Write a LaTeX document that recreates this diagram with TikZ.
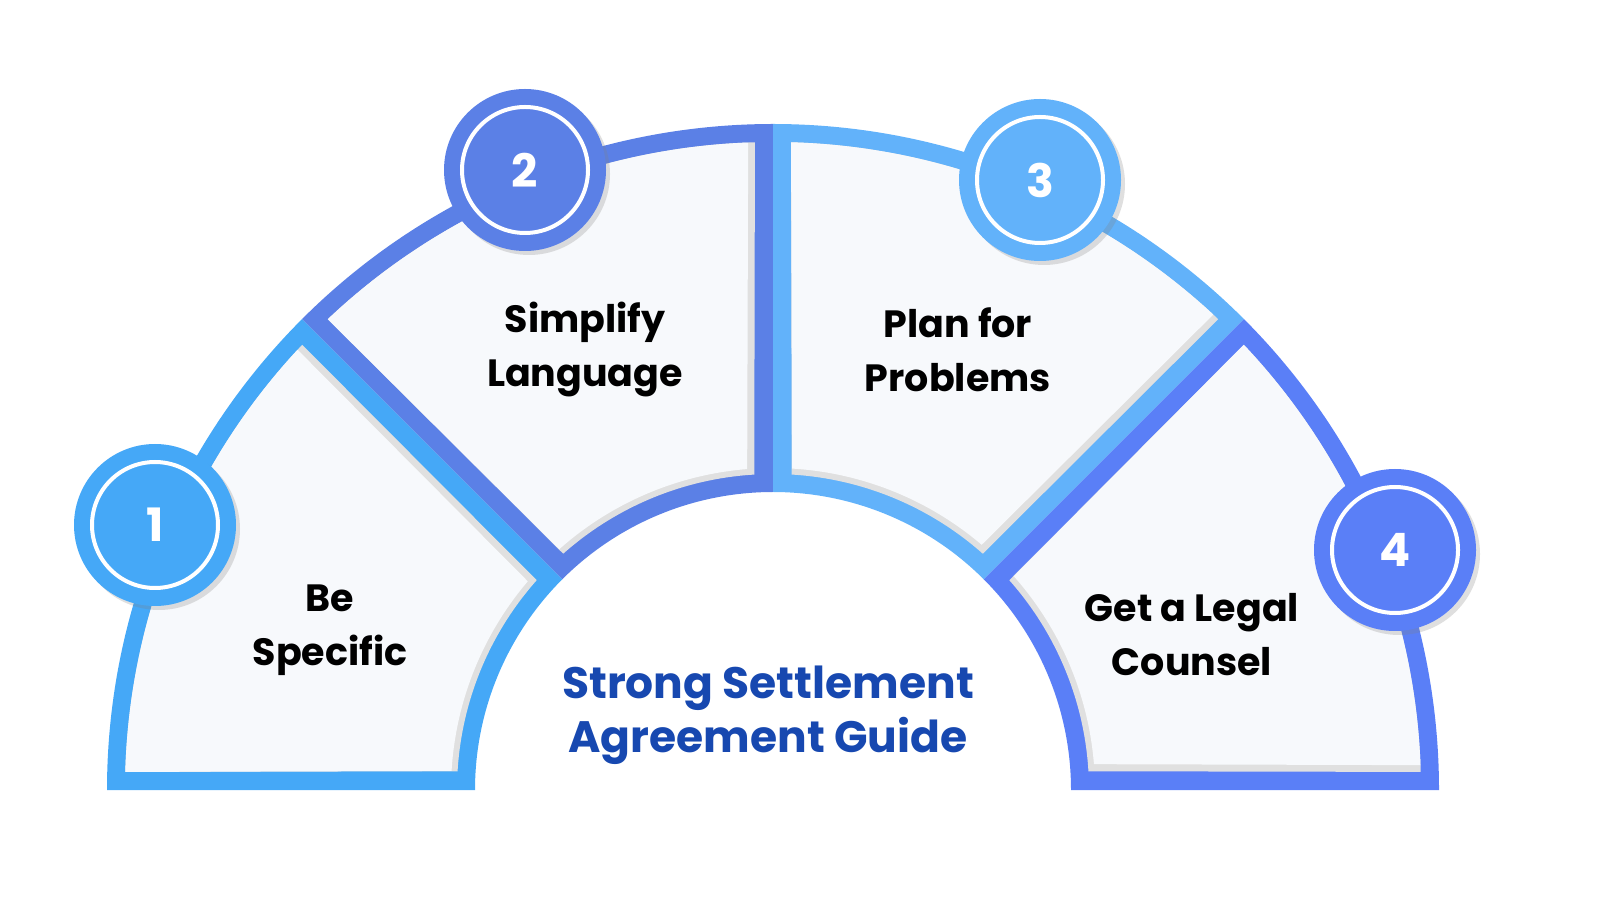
\documentclass[tikz,border=0pt]{standalone}
\usepackage{fontspec}
\setmainfont{Poppins}
\usetikzlibrary{shadows}
\definecolor{cA}{HTML}{45A8F7}
\definecolor{cB}{HTML}{5B80E6}
\definecolor{cC}{HTML}{62B2FA}
\definecolor{cD}{HTML}{5A7FF7}
\definecolor{inset}{HTML}{F7F9FC}
\definecolor{title}{HTML}{1748B0}
\tikzset{
  lbl/.style={font=\fontsize{38}{54}\selectfont\bfseries, align=center, text=black},
  num/.style={circle, minimum size=126pt, inner sep=0pt, text=white, font=\fontsize{46}{50}\selectfont\bfseries, draw=white, line width=4pt},
  ring/.style={circle, minimum size=162pt, inner sep=0pt, drop shadow={shadow xshift=4pt, shadow yshift=-4pt, opacity=0.25}}
}
\newcommand{\sect}[3]{% start, end, color
  \fill[#3] (#1:666) arc[start angle=#1,end angle=#2,radius=666] -- (#2:298) arc[start angle=#2,end angle=#1,radius=298] -- cycle;
  \fill[black!12] ({#1-1.6}:648) arc[start angle={#1-1.6},end angle={#2+1.6},radius=648] -- ({#2+3.4}:316) arc[start angle={#2+3.4},end angle={#1-3.4},radius=316] -- cycle;
  \fill[inset] ({#1-1.6}:648) arc[start angle={#1-1.6},end angle={#2+2.2},radius=648] -- ({#2+4.6}:322) arc[start angle={#2+4.6},end angle={#1-3.4},radius=322] -- cycle;
}
\begin{document}
\begin{tikzpicture}[x=1pt,y=1pt]
\useasboundingbox (0,0) rectangle (1600,900);
\begin{scope}[shift={(773,110)}]
\sect{180}{135}{cA}
\sect{135}{90}{cB}
\sect{90}{45}{cC}
\sect{45}{0}{cD}
\end{scope}
\node[lbl] (t1) at (330,270) {Be\\Specific};
\node[lbl] (t2) at (585,550) {Simplify\\Language};
\node[lbl] (t3) at (958,550) {Plan for\\Problems};
\node[lbl] (t4) at (1192,265) {Get a Legal\\Counsel};
\node[font=\fontsize{44}{54}\selectfont\bfseries, text=title, align=center] (title) at (768,185) {Strong Settlement\\Agreement Guide};
\node[ring, fill=cA] (r1) at (155,375) {};
\node[num, fill=cA] (n1) at (155,375) {1};
\node[ring, fill=cB] (r2) at (525,730) {};
\node[num, fill=cB] (n2) at (525,730) {2};
\node[ring, fill=cC] (r3) at (1040,720) {};
\node[num, fill=cC] (n3) at (1040,720) {3};
\node[ring, fill=cD] (r4) at (1395,350) {};
\node[num, fill=cD] (n4) at (1395,350) {4};
\end{tikzpicture}
\end{document}
